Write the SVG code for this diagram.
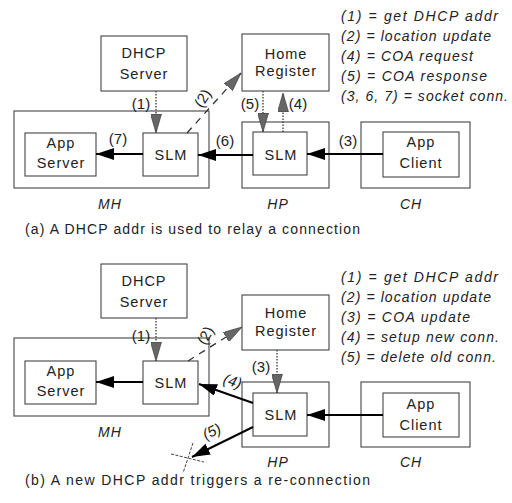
<svg xmlns="http://www.w3.org/2000/svg" width="512" height="503" viewBox="0 0 512 503">
<style>
  .box { fill: #fff; stroke: #444; stroke-width: 1.1; }
  .outer { fill: none; stroke: #444; stroke-width: 1.1; }
  .nt { font-family: "Liberation Sans", Arial, sans-serif; font-size: 14.5px; letter-spacing: 1px; text-anchor: middle; fill: #222; }
  .lbl { font-family: "Liberation Sans", Arial, sans-serif; font-size: 15px; text-anchor: middle; fill: #222; }
  .host { font-family: "Liberation Sans", Arial, sans-serif; font-size: 14px; font-style: italic; text-anchor: middle; fill: #222; letter-spacing: 1px; }
  .leg { font-family: "Liberation Sans", Arial, sans-serif; font-size: 14px; font-style: italic; fill: #222; }
  .cap { font-family: "Liberation Sans", Arial, sans-serif; font-size: 14px; fill: #222; }
  .solid { stroke: #000; stroke-width: 2; fill: none; }
  .dot { stroke: #444; stroke-width: 1.4; stroke-dasharray: 1.5 1.5; fill: none; }
  .dash { stroke: #333; stroke-width: 1.3; stroke-dasharray: 7 6; fill: none; }
  .xmark { stroke: #444; stroke-width: 1; stroke-dasharray: 3 1.5; fill: none; }
</style>
<defs>
  <marker id="arrSolid" markerUnits="userSpaceOnUse" markerWidth="18" markerHeight="12" refX="18" refY="6" orient="auto">
    <path d="M0,0 L18,6 L0,12 z" fill="#000"/>
  </marker>
  <marker id="arrGray" markerUnits="userSpaceOnUse" markerWidth="19" markerHeight="11" refX="19" refY="5.5" orient="auto">
    <path d="M0,0 L19,5.5 L0,11 z" fill="#666" stroke="#333" stroke-width="0.6"/>
  </marker>
</defs>
<rect width="512" height="503" fill="#fff"/>

<!-- ===== Part (a) ===== -->
<g id="a-MH">
  <rect class="outer" x="14" y="111" width="195" height="77"/>
  <text class="host" x="110" y="209">MH</text>
</g>
<g id="a-HP">
  <rect class="outer" x="242" y="122" width="87" height="66"/>
  <text class="host" x="278" y="209">HP</text>
</g>
<g id="a-CH">
  <rect class="outer" x="361" y="122" width="109" height="66"/>
  <text class="host" x="411" y="209">CH</text>
</g>
<g id="a-dhcp">
  <rect class="box" x="101" y="36" width="86" height="55"/>
  <text class="nt" x="144" y="58">DHCP</text>
  <text class="nt" x="144" y="79">Server</text>
</g>
<g id="a-home">
  <rect class="box" x="242" y="34" width="87" height="57"/>
  <text class="nt" x="286" y="59">Home</text>
  <text class="nt" x="286" y="76">Register</text>
</g>
<g id="a-appserver">
  <rect class="box" x="25" y="133" width="71" height="43"/>
  <text class="nt" x="61" y="148">App</text>
  <text class="nt" x="61" y="168">Server</text>
</g>
<g id="a-slm-mh">
  <rect class="box" x="143" y="133" width="55" height="43"/>
  <text class="nt" x="171" y="160">SLM</text>
</g>
<g id="a-slm-hp">
  <rect class="box" x="253" y="132" width="54" height="43"/>
  <text class="nt" x="281" y="160">SLM</text>
</g>
<g id="a-appclient">
  <rect class="box" x="383" y="132" width="76" height="45"/>
  <text class="nt" x="421" y="147">App</text>
  <text class="nt" x="421" y="168">Client</text>
</g>

<g id="a-connectors">
  <line class="dot" x1="156" y1="91" x2="156" y2="133" marker-end="url(#arrGray)"/>
  <line class="dash" x1="187" y1="133" x2="241" y2="73" marker-end="url(#arrGray)"/>
  <line class="dot" x1="263" y1="91" x2="263" y2="132" marker-end="url(#arrGray)"/>
  <line class="dot" x1="283" y1="132" x2="283" y2="93" marker-end="url(#arrGray)"/>
  <line class="solid" x1="143" y1="154" x2="96" y2="154" marker-end="url(#arrSolid)"/>
  <line class="solid" x1="253" y1="155" x2="198" y2="155" marker-end="url(#arrSolid)"/>
  <line class="solid" x1="383" y1="154" x2="307" y2="154" marker-end="url(#arrSolid)"/>
  <text class="lbl" x="141" y="109">(1)</text>
  <text class="lbl" transform="translate(207,101) rotate(-58)">(2)</text>
  <text class="lbl" x="250" y="109">(5)</text>
  <text class="lbl" x="298" y="109">(4)</text>
  <text class="lbl" x="118" y="144">(7)</text>
  <text class="lbl" x="225" y="146">(6)</text>
  <text class="lbl" x="348" y="146">(3)</text>
</g>

<g id="a-legend">
  <text class="leg" x="341" y="21" textLength="157" lengthAdjust="spacing">(1) = get DHCP addr</text>
  <text class="leg" x="341" y="41" textLength="150" lengthAdjust="spacing">(2) = location update</text>
  <text class="leg" x="341" y="61" textLength="132" lengthAdjust="spacing">(4) = COA request</text>
  <text class="leg" x="341" y="81" textLength="146" lengthAdjust="spacing">(5) = COA response</text>
  <text class="leg" x="341" y="101" textLength="167" lengthAdjust="spacing">(3, 6, 7) = socket conn.</text>
</g>
<text class="cap" x="25" y="234" textLength="335" lengthAdjust="spacing">(a) A DHCP addr is used to relay a connection</text>

<!-- ===== Part (b) ===== -->
<g id="b-MH">
  <rect class="outer" x="14" y="338" width="195" height="78"/>
  <text class="host" x="110" y="437">MH</text>
</g>
<g id="b-HP">
  <rect class="outer" x="242" y="382" width="87" height="65"/>
  <text class="host" x="278" y="467">HP</text>
</g>
<g id="b-CH">
  <rect class="outer" x="361" y="382" width="109" height="65"/>
  <text class="host" x="411" y="467">CH</text>
</g>
<g id="b-dhcp">
  <rect class="box" x="101" y="264" width="86" height="54"/>
  <text class="nt" x="144" y="286">DHCP</text>
  <text class="nt" x="144" y="307">Server</text>
</g>
<g id="b-home">
  <rect class="box" x="242" y="295" width="87" height="55"/>
  <text class="nt" x="286" y="318">Home</text>
  <text class="nt" x="286" y="336">Register</text>
</g>
<g id="b-appserver">
  <rect class="box" x="25" y="361" width="71" height="43"/>
  <text class="nt" x="61" y="376">App</text>
  <text class="nt" x="61" y="396">Server</text>
</g>
<g id="b-slm-mh">
  <rect class="box" x="143" y="361" width="55" height="43"/>
  <text class="nt" x="171" y="388">SLM</text>
</g>
<g id="b-slm-hp">
  <rect class="box" x="253" y="393" width="54" height="43"/>
  <text class="nt" x="281" y="420">SLM</text>
</g>
<g id="b-appclient">
  <rect class="box" x="383" y="393" width="76" height="44"/>
  <text class="nt" x="421" y="409">App</text>
  <text class="nt" x="421" y="430">Client</text>
</g>

<g id="b-connectors">
  <line class="dot" x1="156" y1="318" x2="156" y2="361" marker-end="url(#arrGray)"/>
  <line class="dash" x1="188" y1="361" x2="242" y2="327" marker-end="url(#arrGray)"/>
  <line class="dot" x1="277" y1="350" x2="277" y2="393" marker-end="url(#arrGray)"/>
  <line class="solid" x1="143" y1="382" x2="96" y2="382" marker-end="url(#arrSolid)"/>
  <line class="solid" x1="383" y1="415" x2="307" y2="415" marker-end="url(#arrSolid)"/>
  <line class="solid" x1="253" y1="403" x2="199" y2="384" marker-end="url(#arrSolid)"/>
  <line class="solid" x1="253" y1="427" x2="192" y2="457" marker-end="url(#arrSolid)"/>
  <line class="xmark" x1="171" y1="454" x2="204" y2="462"/>
  <line class="xmark" x1="193" y1="443" x2="183" y2="473"/>
  <text class="lbl" x="141" y="341">(1)</text>
  <text class="lbl" transform="translate(210,338) rotate(-62)">(2)</text>
  <text class="lbl" x="261" y="372">(3)</text>
  <text class="lbl" font-style="italic" transform="translate(231,386) rotate(18)">(4)</text>
  <text class="lbl" font-style="italic" transform="translate(214,436) rotate(-26)">(5)</text>
</g>

<g id="b-legend">
  <text class="leg" x="341" y="282" textLength="157" lengthAdjust="spacing">(1) = get DHCP addr</text>
  <text class="leg" x="341" y="302" textLength="150" lengthAdjust="spacing">(2) = location update</text>
  <text class="leg" x="341" y="322" textLength="129" lengthAdjust="spacing">(3) = COA update</text>
  <text class="leg" x="341" y="342" textLength="158" lengthAdjust="spacing">(4) = setup new conn.</text>
  <text class="leg" x="341" y="362" textLength="155" lengthAdjust="spacing">(5) = delete old conn.</text>
</g>
<text class="cap" x="25" y="485" textLength="345" lengthAdjust="spacing">(b) A new DHCP addr triggers a re-connection</text>
</svg>
